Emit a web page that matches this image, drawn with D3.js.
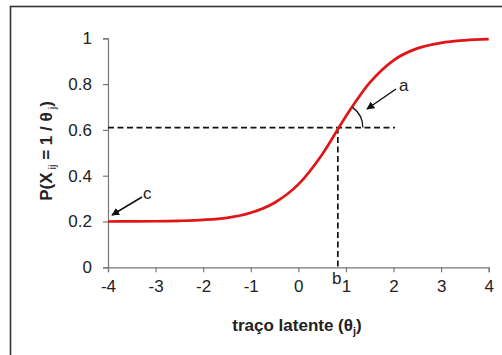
<!DOCTYPE html>
<html>
<head>
<meta charset="utf-8">
<script src="https://cdn.jsdelivr.net/npm/d3@7"></script>
<style>
  html, body { margin: 0; padding: 0; background: #fff; }
  svg { display: block; font-family: "Liberation Sans", Arial, sans-serif; }
</style>
</head>
<body>
<svg id="chart" width="502" height="355"></svg>
<script>
// Item characteristic curve: probability of a correct answer vs. latent trait
const theta = [-4, -3.5, -3, -2.5, -2, -1.5, -1, -0.5, 0, 0.5, 1, 1.5, 2, 2.5, 3, 3.5, 4];
const prob  = [0.200, 0.2005, 0.201, 0.203, 0.207, 0.216, 0.238, 0.282, 0.362, 0.493, 0.660, 0.806, 0.904, 0.956, 0.980, 0.991, 0.996];
const xTicks = [-4, -3, -2, -1, 0, 1, 2, 3, 4];
const yTicks = [0, 0.2, 0.4, 0.6, 0.8, 1];
const yTickLabels = ["0", "0.2", "0.4", "0.6", "0.8", "1"];
// parameter guides
const bValue = 0.83;   // difficulty
const pAtB = 0.61;     // probability at b
const guideEnd = 2.03; // end of horizontal guide

const svg = d3.select("#chart");

// outer frame
svg.append("rect")
  .attr("x", 10.5).attr("y", 6.5)
  .attr("width", 520).attr("height", 400)
  .attr("fill", "none").attr("stroke", "#333").attr("stroke-width", 1.6);

const x = d3.scaleLinear().domain([-4, 4]).range([108, 488.7]);
const y = d3.scaleLinear().domain([0, 1]).range([267.3, 38.3]);

// y axis
const yAxis = svg.append("g").attr("transform", `translate(${x(-4)},0)`)
  .call(d3.axisLeft(y).tickValues(yTicks).tickFormat((d, i) => yTickLabels[i]).tickSize(5).tickPadding(11));
yAxis.select(".domain").attr("stroke", "#777").attr("stroke-width", 1.2);
yAxis.selectAll(".tick line").attr("stroke", "#777").attr("stroke-width", 1.2);
yAxis.selectAll(".tick text").attr("font-size", 17).attr("fill", "#222")
  .attr("font-family", "Liberation Sans, Arial, sans-serif");

// x axis
const xAxis = svg.append("g").attr("transform", `translate(0,${y(0)})`)
  .call(d3.axisBottom(x).tickValues(xTicks).tickFormat(d3.format("d")).tickSize(5).tickPadding(8));
xAxis.select(".domain").attr("stroke", "#777").attr("stroke-width", 1.2);
xAxis.selectAll(".tick line").attr("stroke", "#777").attr("stroke-width", 1.2);
xAxis.selectAll(".tick text").attr("font-size", 17).attr("fill", "#222")
  .attr("font-family", "Liberation Sans, Arial, sans-serif")
  .text(d => d < 0 ? "-" + Math.abs(d) : d);

// dashed guides at b
svg.append("line")
  .attr("x1", x(-4)).attr("x2", x(guideEnd))
  .attr("y1", y(pAtB)).attr("y2", y(pAtB))
  .attr("stroke", "#111").attr("stroke-width", 1.7).attr("stroke-dasharray", "6,3.5");
svg.append("line")
  .attr("x1", x(bValue)).attr("x2", x(bValue))
  .attr("y1", y(pAtB)).attr("y2", y(0))
  .attr("stroke", "#111").attr("stroke-width", 1.7).attr("stroke-dasharray", "6,3.5");

// curve
const pts = theta.map((t, i) => [t, prob[i]]);
svg.append("path")
  .datum(pts)
  .attr("fill", "none")
  .attr("stroke", "#e01616")
  .attr("stroke-width", 2.7)
  .attr("d", d3.line().x(d => x(d[0])).y(d => y(d[1])).curve(d3.curveMonotoneX));

// slope angle arc at b
const cx = x(bValue), cy = y(pAtB), r = 25;
svg.append("path")
  .attr("d", d3.arc()({ innerRadius: r, outerRadius: r, startAngle: Math.PI / 2, endAngle: Math.PI * 0.2 }))
  .attr("transform", `translate(${cx},${cy})`)
  .attr("fill", "none").attr("stroke", "#111").attr("stroke-width", 1.3);

// arrow marker
svg.append("defs").append("marker")
  .attr("id", "arrow").attr("viewBox", "0 0 10 10")
  .attr("refX", 9).attr("refY", 5)
  .attr("markerWidth", 8).attr("markerHeight", 8)
  .attr("markerUnits", "userSpaceOnUse")
  .attr("orient", "auto")
  .append("path").attr("d", "M0,0 L10,5 L0,10 z").attr("fill", "#111");

// annotation "a"
svg.append("line")
  .attr("x1", 396).attr("y1", 89).attr("x2", 367).attr("y2", 109)
  .attr("stroke", "#111").attr("stroke-width", 1.5).attr("marker-end", "url(#arrow)");
svg.append("text").attr("x", 399).attr("y", 91).attr("font-size", 17).attr("fill", "#222").text("a");

// annotation "c"
svg.append("line")
  .attr("x1", 142).attr("y1", 197).attr("x2", 112).attr("y2", 215)
  .attr("stroke", "#111").attr("stroke-width", 1.5).attr("marker-end", "url(#arrow)");
svg.append("text").attr("x", 143).attr("y", 199).attr("font-size", 17).attr("fill", "#222").text("c");

// annotation "b"
svg.append("text").attr("x", x(bValue) - 1).attr("y", 284)
  .attr("text-anchor", "middle").attr("font-size", 17).attr("fill", "#222").text("b");

// x axis title
const xt = svg.append("text")
  .attr("x", 297).attr("y", 331)
  .attr("text-anchor", "middle").attr("font-size", 17).attr("font-weight", "bold").attr("fill", "#222");
xt.append("tspan").text("traço latente (θ");
xt.append("tspan").attr("font-size", 11).attr("dy", 4).text("j");
xt.append("tspan").attr("dy", -4).text(")");

// y axis title
const yt = svg.append("text")
  .attr("transform", "translate(52,151) rotate(-90)")
  .attr("text-anchor", "middle").attr("font-size", 17).attr("font-weight", "bold").attr("fill", "#222");
yt.append("tspan").text("P(X");
yt.append("tspan").attr("font-size", 11).attr("font-weight", "normal").attr("dy", 4).text(" ij");
yt.append("tspan").attr("dy", -4).text(" = 1 / θ");
yt.append("tspan").attr("font-size", 11).attr("font-weight", "normal").attr("dy", 4).text(" j");
yt.append("tspan").attr("dy", -4).text(")");
</script>
</body>
</html>
